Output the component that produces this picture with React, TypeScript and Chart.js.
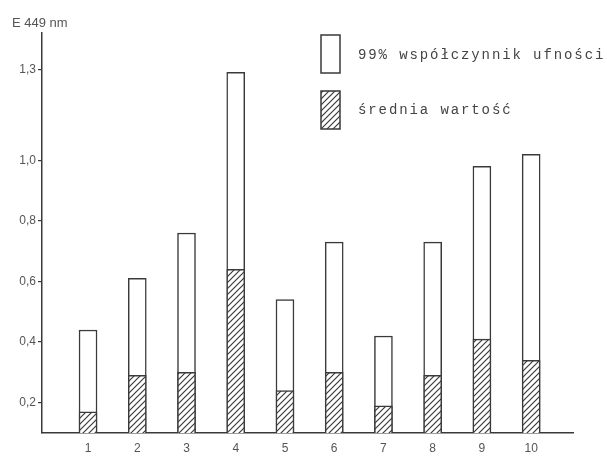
import React, { useEffect, useRef } from 'react';
import { Chart, registerables } from 'chart.js';
Chart.register(...registerables);

const categories = [1, 2, 3, 4, 5, 6, 7, 8, 9, 10];
const meanValues = [0.17, 0.29, 0.30, 0.64, 0.24, 0.30, 0.19, 0.29, 0.41, 0.34];
const upperValues = [0.44, 0.61, 0.76, 1.29, 0.54, 0.73, 0.42, 0.73, 0.98, 1.02];
const yTickValues = [0.2, 0.4, 0.6, 0.8, 1.0, 1.3];
const legendLabels = ['99% współczynnik ufności', 'średnia wartość'];
const yAxisTitle = 'E 449 nm';

const INK = '#3a3a3a';
const TEXT = '#555';

function makeHatch(): CanvasPattern | string {
  const c = document.createElement('canvas');
  c.width = 6;
  c.height = 6;
  const g = c.getContext('2d');
  if (!g) return '#fff';
  g.fillStyle = '#fff';
  g.fillRect(0, 0, 6, 6);
  g.strokeStyle = INK;
  g.lineWidth = 1.2;
  g.beginPath();
  g.moveTo(0, 6); g.lineTo(6, 0);
  g.moveTo(-1, 1); g.lineTo(1, -1);
  g.moveTo(5, 7); g.lineTo(7, 5);
  g.stroke();
  const p = g.createPattern(c, 'repeat');
  return p || '#fff';
}

export default function App() {
  const ref = useRef<HTMLCanvasElement | null>(null);
  useEffect(() => {
    if (!ref.current) return;
    const hatch = makeHatch();
    const overlay = {
      id: 'overlay',
      afterDraw(chart: any) {
        const ctx = chart.ctx as CanvasRenderingContext2D;
        ctx.save();
        ctx.fillStyle = TEXT;
        ctx.font = '13px "Liberation Sans", sans-serif';
        ctx.textBaseline = 'middle';
        ctx.textAlign = 'left';
        ctx.fillText(yAxisTitle, 12, 23);
        // legend
        ctx.strokeStyle = INK;
        ctx.lineWidth = 1.5;
        ctx.fillStyle = '#fff';
        ctx.fillRect(321, 35, 19, 38);
        ctx.strokeRect(321, 35, 19, 38);
        ctx.fillStyle = hatch as any;
        ctx.fillRect(321, 91, 19, 38);
        ctx.strokeRect(321, 91, 19, 38);
        ctx.fillStyle = '#444';
        ctx.font = '14px "Liberation Mono", monospace';
        (ctx as any).letterSpacing = '1.9px';
        ctx.fillText(legendLabels[0], 358, 55);
        ctx.fillText(legendLabels[1], 358, 110);
        ctx.restore();
      },
    };
    const chart = new Chart(ref.current, {
      type: 'bar',
      data: {
        datasets: [
          {
            label: legendLabels[1],
            data: categories.map((c, i) => ({ x: c, y: meanValues[i] })),
            backgroundColor: hatch as any,
            borderColor: INK,
            borderWidth: 1.5,
            barThickness: 18,
            grouped: false,
          } as any,
          {
            label: legendLabels[0],
            data: categories.map((c, i) => ({ x: c, y: upperValues[i] })),
            backgroundColor: '#fff',
            borderColor: INK,
            borderWidth: 1.5,
            barThickness: 18,
            grouped: false,
          } as any,
        ],
      },
      options: {
        animation: false,
        responsive: false,
        maintainAspectRatio: false,
        layout: { padding: { left: 0, top: 33, right: 34, bottom: 0 } },
        plugins: { legend: { display: false }, tooltip: { enabled: false } },
        scales: {
          x: {
            type: 'linear',
            offset: false,
            min: 0.065,
            max: 10.85,
            afterBuildTicks: (s: any) => { s.ticks = categories.map((v) => ({ value: v })); },
            afterFit: (s: any) => { s.height = 26; },
            grid: { display: false, drawTicks: false, offset: false },
            border: { display: true, color: INK, width: 1.5 },
            ticks: {
              padding: 8,
              color: TEXT,
              font: { family: '"Liberation Sans", sans-serif', size: 12 },
              callback: (v: any) => String(v),
            },
          },
          y: {
            type: 'linear',
            min: 0.1,
            max: 1.42,
            afterBuildTicks: (s: any) => { s.ticks = yTickValues.map((v) => ({ value: v })); },
            afterFit: (s: any) => { s.width = 42; },
            grid: { display: true, drawOnChartArea: false, drawTicks: true, tickLength: 4, color: INK, lineWidth: 1.2 },
            border: { display: true, color: INK, width: 1.5 },
            ticks: {
              padding: 2,
              color: TEXT,
              font: { family: '"Liberation Sans", sans-serif', size: 12 },
              callback: (v: any) => Number(v).toFixed(1).replace('.', ','),
            },
          },
        },
      } as any,
      plugins: [overlay],
    });
    return () => chart.destroy();
  }, []);
  return (
    <div style={{ position: 'fixed', left: 0, top: 0, width: 607, height: 459, background: '#fff' }}>
      <canvas ref={ref} width={607} height={459} style={{ width: 607, height: 459 }} />
    </div>
  );
}
